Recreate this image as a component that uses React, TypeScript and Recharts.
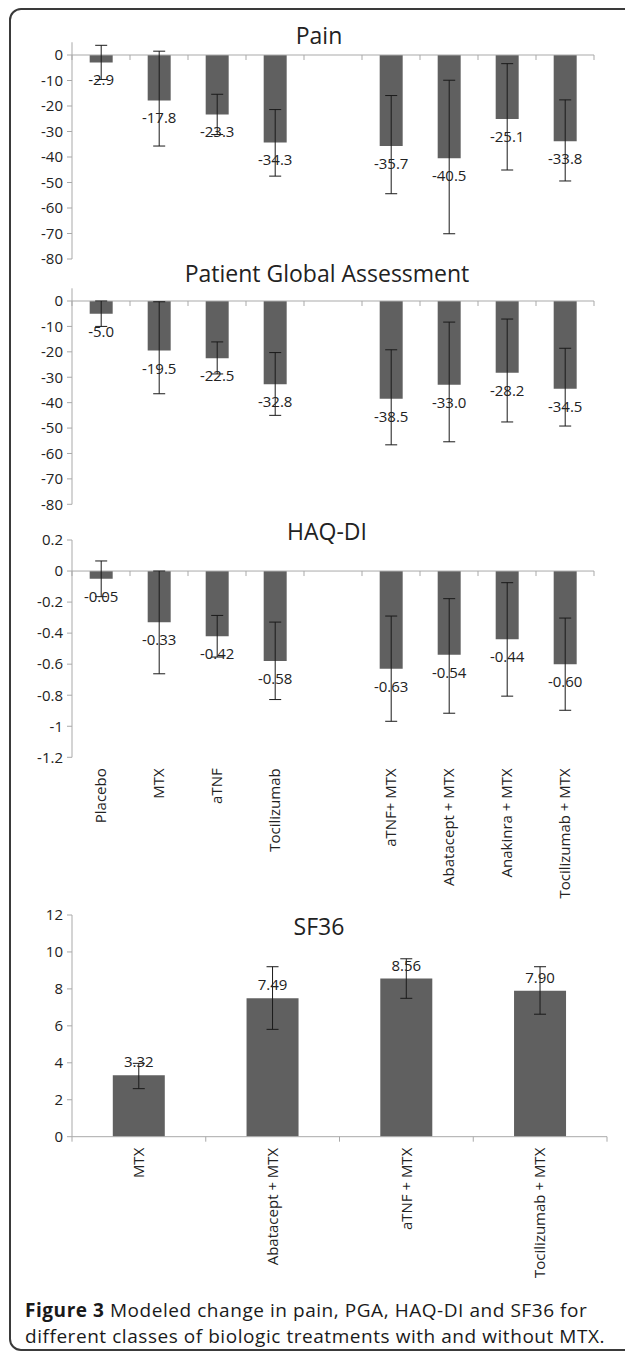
import React from 'react';
import { BarChart, Bar, XAxis, YAxis, ErrorBar, LabelList, ReferenceLine } from 'recharts';

// ---------- data ----------
const categories = ['Placebo', 'MTX', 'aTNF', 'Tocilizumab', '', 'aTNF+ MTX', 'Abatacept + MTX', 'Anakinra + MTX', 'Tocilizumab + MTX'];

const painValues = [-2.9, -17.8, -23.3, -34.3, null, -35.7, -40.5, -25.1, -33.8];
const painLow = [-9.6, -35.7, -31.2, -47.5, null, -54.4, -70.1, -45.1, -49.4];
const painHigh = [3.8, 1.5, -15.4, -21.4, null, -15.9, -9.9, -3.4, -17.6];

const pgaValues = [-5.0, -19.5, -22.5, -32.8, null, -38.5, -33.0, -28.2, -34.5];
const pgaLow = [-10.0, -36.5, -28.7, -45.0, null, -56.6, -55.4, -47.6, -49.2];
const pgaHigh = [0.0, -0.3, -16.1, -20.3, null, -19.2, -8.3, -7.1, -18.6];

const haqValues = [-0.05, -0.33, -0.42, -0.58, null, -0.63, -0.54, -0.44, -0.60];
const haqLow = [-0.165, -0.662, -0.554, -0.828, null, -0.968, -0.916, -0.806, -0.897];
const haqHigh = [0.065, 0.0, -0.286, -0.329, null, -0.29, -0.178, -0.075, -0.303];

const sfCategories = ['MTX', 'Abatacept + MTX', 'aTNF + MTX', 'Tocilizumab + MTX'];
const sfValues = [3.32, 7.49, 8.56, 7.90];
const sfLow = [2.60, 5.81, 7.49, 6.63];
const sfHigh = [3.97, 9.20, 9.63, 9.20];

const painTicks = [0, -10, -20, -30, -40, -50, -60, -70, -80];
const haqTicks = [0.2, 0, -0.2, -0.4, -0.6, -0.8, -1, -1.2];
const sfTicks = [0, 2, 4, 6, 8, 10, 12];

const build = (cats: string[], values: (number | null)[], lows: (number | null)[], highs: (number | null)[]) =>
  cats.map((c, i) => {
    const v = values[i];
    const lo = lows[i];
    const hi = highs[i];
    return {
      name: c,
      value: v,
      err: v == null || lo == null || hi == null ? null : [v - lo, hi - v],
    };
  });

const painData = build(categories, painValues, painLow, painHigh);
const pgaData = build(categories, pgaValues, pgaLow, pgaHigh);
const haqData = build(categories, haqValues, haqLow, haqHigh);
const sfData = build(sfCategories, sfValues, sfLow, sfHigh);

// ---------- styles ----------
const FONT = '"Open Sans", Lato, sans-serif';
const AXIS = '#a9a9a9';
const BAR = '#606060';
const TEXT = '#222';

const ZeroLine = (props: any) => {
  const { x1, x2, y1, n } = props;
  if (x1 == null) return null;
  const step = (x2 - x1) / n;
  const ticks = Array.from({ length: n + 1 }, (_, i) => x1 + i * step);
  return (
    <g>
      <line x1={x1} y1={y1} x2={x2} y2={y1} stroke={AXIS} strokeWidth={1} />
      {ticks.map((x, i) => (
        <line key={i} x1={x} x2={x} y1={y1} y2={y1 + 5} stroke={AXIS} strokeWidth={1} />
      ))}
    </g>
  );
};

const makeLabel = (digits: number) => (props: any) => {
  const { value } = props;
  if (value == null) return null;
  const vb = props.viewBox || props;
  const { x, y, width, height } = vb;
  const top = Math.min(y, y + height);
  const bottom = Math.max(y, y + height);
  const cy = value < 0 ? bottom + 17 : top - 14;
  return (
    <text x={x + width / 2} y={cy} textAnchor="middle" dominantBaseline="central" fontSize={15} fill={TEXT} fontFamily={FONT}>
      {Number(value).toFixed(digits)}
    </text>
  );
};

const RotTick = (props: any) => {
  const { x, y, payload } = props;
  return (
    <text x={x} y={y} transform={`rotate(-90, ${x}, ${y})`} textAnchor="end" dy="0.35em" fontSize={15} fill={TEXT} fontFamily={FONT}>
      {payload.value}
    </text>
  );
};

type PanelProps = {
  data: any[];
  top: number;
  height: number;
  margin: { top: number; right: number; bottom: number; left: number };
  domain: [number, number];
  ticks: number[];
  digits: number;
  showX: boolean;
};

const Panel = ({ data, top, height, margin, domain, ticks, digits, showX }: PanelProps) => (
  <div style={{ position: 'absolute', left: 0, top, width: 625, height }}>
    <BarChart width={625} height={height} data={data} margin={margin} barCategoryGap="30.5%">
      {showX ? (
        <XAxis dataKey="name" axisLine={false} tickLine={false} interval={0} height={150} tickSize={6} tickMargin={5} tick={<RotTick />} />
      ) : (
        <XAxis dataKey="name" hide />
      )}
      <YAxis
        type="number"
        domain={domain}
        ticks={ticks}
        interval={0}
        width={60}
        allowDataOverflow
        axisLine={{ stroke: AXIS }}
        tickLine={{ stroke: AXIS }}
        tickSize={5}
        tickMargin={4}
        tick={{ fontSize: 15, fill: TEXT, fontFamily: FONT }}
      />
      <ReferenceLine y={0} shape={(p: any) => <ZeroLine {...p} n={data.length} />} />
      <Bar dataKey="value" fill={BAR} isAnimationActive={false}>
        <ErrorBar dataKey="err" width={6} stroke="#1a1a1a" strokeWidth={1} direction="y" />
        <LabelList dataKey="value" content={makeLabel(digits)} />
      </Bar>
    </BarChart>
  </div>
);

const titleStyle = (cx: number, cy: number): React.CSSProperties => ({
  position: 'absolute',
  left: cx - 200,
  top: cy - 15,
  width: 400,
  textAlign: 'center',
  fontFamily: FONT,
  fontSize: 23,
  lineHeight: '30px',
  color: TEXT,
});

export default function App() {
  return (
    <div style={{ position: 'absolute', left: 0, top: 0, width: 625, height: 1356, overflow: 'hidden', background: '#fff' }}>
      <div
        style={{
          position: 'absolute',
          left: 9,
          top: 8,
          width: 640,
          height: 1343,
          border: '2px solid #3a3a3a',
          borderRadius: 12,
          boxSizing: 'border-box',
        }}
      />
      <Panel data={painData} top={0} height={280} margin={{ top: 42.25, right: 31, bottom: 21, left: 12 }} domain={[-80, 5]} ticks={painTicks} digits={1} showX={false} />
      <Panel data={pgaData} top={260} height={260} margin={{ top: 28.3, right: 31, bottom: 15.7, left: 12 }} domain={[-80, 5]} ticks={painTicks} digits={1} showX={false} />
      <Panel data={haqData} top={500} height={420} margin={{ top: 40, right: 31, bottom: 12.7, left: 12 }} domain={[-1.2, 0.2]} ticks={haqTicks} digits={2} showX={true} />
      <Panel data={sfData} top={880} height={420} margin={{ top: 35, right: 18, bottom: 13.3, left: 12 }} domain={[0, 12]} ticks={sfTicks} digits={2} showX={true} />

      <div style={titleStyle(319, 35)}>Pain</div>
      <div style={titleStyle(327, 273)}>Patient Global Assessment</div>
      <div style={titleStyle(327, 531)}>HAQ-DI</div>
      <div style={titleStyle(319, 926)}>SF36</div>

      <div
        style={{
          position: 'absolute',
          left: 25,
          top: 1298,
          width: 600,
          fontFamily: '"Open Sans", sans-serif',
          fontSize: 19,
          letterSpacing: '0.55px',
          lineHeight: '25.5px',
          color: '#1a1a1a',
          whiteSpace: 'nowrap',
        }}
      >
        <div>
          <b>Figure 3</b> Modeled change in pain, PGA, HAQ-DI and SF36 for
        </div>
        <div>different classes of biologic treatments with and without MTX.</div>
      </div>
    </div>
  );
}
